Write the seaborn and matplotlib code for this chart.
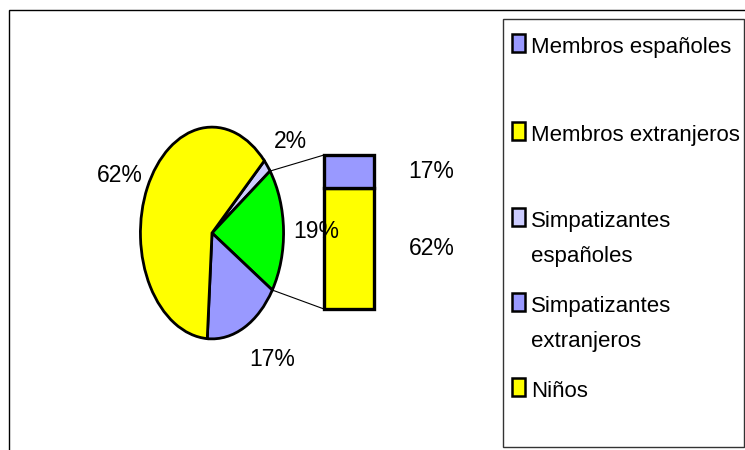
import matplotlib
matplotlib.use("Agg")
import matplotlib.pyplot as plt
from matplotlib.patches import Rectangle, ConnectionPatch
import numpy as np
import seaborn as sns

# ---- data ----
pie_labels = ["Simpatizantes españoles", "Otros", "Membros españoles", "Membros extranjeros"]
pie_values = [2, 19, 17, 62]
pie_colors = ["#CCCCFF", "#00FF00", "#9999FF", "#FFFF00"]

bar_labels = ["Niños", "Simpatizantes extranjeros"]
bar_values = [62, 17]
bar_colors = ["#FFFF00", "#9999FF"]

legend_labels = ["Membros españoles", "Membros extranjeros",
                 "Simpatizantes\nespañoles", "Simpatizantes\nextranjeros", "Niños"]
legend_colors = ["#9999FF", "#FFFF00", "#CCCCFF", "#9999FF", "#FFFF00"]

sns.set_theme(style="white")
plt.rcParams["font.family"] = ["Liberation Sans", "DejaVu Sans"]
plt.rcParams["text.color"] = "black"

W, H = 745, 450
fig = plt.figure(figsize=(W / 100, H / 100), dpi=100)
fig.patch.set_facecolor("white")

def fx(px):
    return px / W

def fy(py):
    return 1 - py / H

FS = 16.5
LFS = 16

# ---- pie ----
cx, cy, rx, ry = 212, 233, 73, 108
ax_pie = fig.add_axes([fx(cx - rx), fy(cy + ry), 2 * rx / W, 2 * ry / H])
ax_pie.set_zorder(3)
startangle = 43
wedges, texts, autotexts = ax_pie.pie(
    pie_values, colors=pie_colors, startangle=startangle, counterclock=False,
    autopct="%.0f%%", pctdistance=1.3,
    wedgeprops=dict(edgecolor="black", linewidth=2),
    textprops=dict(fontsize=FS, color="black"))
ax_pie.set_aspect("auto")
ax_pie.set_xlim(-1.02, 1.02)
ax_pie.set_ylim(-1.02, 1.02)
ax_pie.axis("off")

label_pos_px = [(290, 141), (316, 232), (272, 359), (120, 175)]
for t, (px, py) in zip(autotexts, label_pos_px):
    t.set_position(((px - cx) / rx * 1.02, (cy - py) / ry * 1.02))
    t.set_ha("center")
    t.set_va("center")
    t.set_clip_on(False)

# ---- bar of pie ----
ax_bar = fig.add_axes([fx(324), fy(309), 50 / W, 154 / H])
ax_bar.set_zorder(2)
bottom = 0
bar_mids = []
for v, c in zip(bar_values, bar_colors):
    bars = ax_bar.bar([0], [v], bottom=bottom, width=1.0, color=c,
                      edgecolor="black", linewidth=2.4)
    for b in bars:
        b.set_clip_on(False)
    bar_mids.append(bottom + v / 2)
    bottom += v
total = sum(bar_values)
ax_bar.set_xlim(-0.5, 0.5)
ax_bar.set_ylim(0, total)
ax_bar.axis("off")
for v, m in zip(bar_values, bar_mids):
    ax_bar.text(1.65, m, f"{v}%", fontsize=FS, ha="center", va="center", clip_on=False)

# connector lines from "other" slice edges to bar corners
a1 = np.deg2rad(startangle - pie_values[0] / 100 * 360)
a2 = np.deg2rad(startangle - (pie_values[0] + pie_values[1]) / 100 * 360)
for a, yb in [(a1, total), (a2, 0)]:
    con = ConnectionPatch(xyA=(np.cos(a), np.sin(a)), coordsA=ax_pie.transData,
                          xyB=(-0.5, yb), coordsB=ax_bar.transData,
                          color="black", linewidth=0.8)
    fig.add_artist(con)

# ---- frames ----
fig.add_artist(Rectangle((fx(9), -0.2), 1.5, fy(10) + 0.2, transform=fig.transFigure,
                         fill=False, edgecolor="black", linewidth=1.0))
fig.add_artist(Rectangle((fx(503), fy(447)), fx(744) - fx(503), fy(19) - fy(447),
                         transform=fig.transFigure, fill=False, edgecolor="#333333", linewidth=1.0))

# ---- legend ----
baselines = [53, 141, 227, 312, 397]
line_gap = 35
for lab, col, b in zip(legend_labels, legend_colors, baselines):
    fig.add_artist(Rectangle((fx(512), fy(b - 1)), 13 / W, 18 / H, transform=fig.transFigure,
                             facecolor=col, edgecolor="black", linewidth=1.8))
    for i, line in enumerate(lab.split("\n")):
        fig.text(fx(531), fy(b + i * line_gap), line, fontsize=LFS, ha="left", va="baseline")

fig.savefig("out.png", dpi=100, facecolor="white")
